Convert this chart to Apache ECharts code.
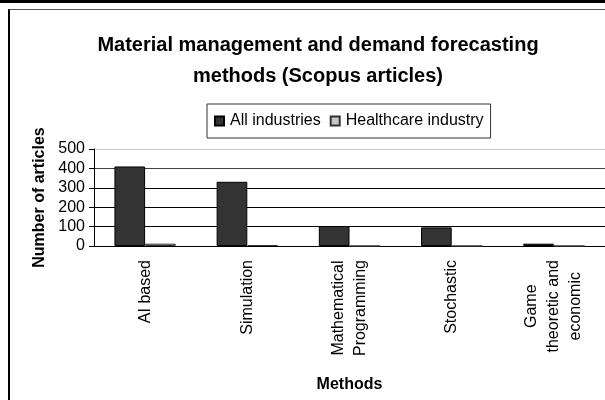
<!DOCTYPE html>
<html>
<head>
    <meta charset="utf-8" />
    <title>Material management and demand forecasting methods</title>
    <script src="https://cdn.jsdelivr.net/npm/echarts@6.0.0/dist/echarts.min.js"></script>
    <style>
        * { margin: 0; padding: 0; box-sizing: border-box; }
        body { width: 605px; height: 400px; background: #fff; position: relative; overflow: hidden; }
        .topbar { position: absolute; left: 0; top: 0; width: 605px; height: 3px; background: #000; }
        .frame { position: absolute; left: 8px; top: 9px; right: -5px; bottom: -5px;
                 border-left: 2px solid #000; border-top: 1px solid #555; }
        #chart { position: absolute; left: 0; top: 0; width: 605px; height: 400px; }
    </style>
</head>
<body>
    <div class="topbar"></div>
    <div class="frame"></div>
    <div id="chart"></div>

    <script>
        // data
        const methods = ['AI based', 'Simulation', 'Mathematical\nProgramming', 'Stochastic', 'Game\ntheoretic and\neconomic'];
        const allIndustries = [410, 331, 103, 96, 12];
        const healthcare = [12, 5, 0, 0, 0];

        const font = '"Liberation Sans", Arial, sans-serif';

        const myChart = echarts.init(document.getElementById('chart'), null, { renderer: 'canvas' });

        const option = {
            animation: false,
            title: {
                text: 'Material management and demand forecasting\nmethods (Scopus articles)',
                left: 313,
                textAlign: 'center',
                top: 25,
                textStyle: {
                    fontFamily: font,
                    fontSize: 20,
                    fontWeight: 'bold',
                    color: '#000',
                    lineHeight: 31
                }
            },
            legend: {
                data: ['All industries', 'Healthcare industry'],
                left: 207,
                top: 104,
                padding: [9, 7, 9, 7],
                borderColor: '#333',
                borderWidth: 1,
                itemWidth: 9,
                itemHeight: 9,
                itemGap: 9,
                icon: 'rect',
                textStyle: { fontFamily: font, fontSize: 16, color: '#000', padding: [0, 0, 0, 1] }
            },
            grid: {
                left: 94,
                right: 0,
                top: 149,
                bottom: 154,
                containLabel: false
            },
            xAxis: {
                type: 'category',
                data: methods,
                name: 'Methods',
                nameLocation: 'middle',
                nameGap: 131,
                nameTextStyle: { fontFamily: font, fontSize: 16, fontWeight: 'bold', color: '#000', verticalAlign: 'top' },
                axisLine: { lineStyle: { color: '#000', width: 1 } },
                axisTick: { length: 5, lineStyle: { color: '#000' } },
                axisLabel: {
                    rotate: 90,
                    margin: 14,
                    interval: 0,
                    fontFamily: font,
                    fontSize: 16,
                    lineHeight: 22,
                    color: '#000',
                    // centre each line of a wrapped label inside its block
                    formatter: function (value) {
                        return value.split('\n').map(function (line) { return '{c|' + line + '}'; }).join('\n');
                    },
                    rich: {
                        c: { align: 'center', fontFamily: font, fontSize: 16, lineHeight: 22, color: '#000' }
                    }
                }
            },
            yAxis: {
                type: 'value',
                min: 0,
                max: 500,
                interval: 100,
                name: 'Number of articles',
                nameLocation: 'middle',
                nameGap: 46,
                nameTextStyle: { fontFamily: font, fontSize: 16, fontWeight: 'bold', color: '#000' },
                axisLine: { show: true, lineStyle: { color: '#000', width: 1 } },
                axisTick: { show: true, length: 5, lineStyle: { color: '#000' } },
                axisLabel: { fontFamily: font, fontSize: 16, color: '#000', margin: 9 },
                splitLine: {
                    lineStyle: { color: ['#000', '#000', '#000', '#000', '#444', '#ccc'], width: 1 }
                }
            },
            series: [
                {
                    name: 'All industries',
                    type: 'bar',
                    data: allIndustries,
                    barGap: '0%',
                    barCategoryGap: '40%',
                    itemStyle: { color: '#333333', borderColor: '#000', borderWidth: 1 }
                },
                {
                    name: 'Healthcare industry',
                    type: 'bar',
                    data: healthcare,
                    itemStyle: { color: '#c8c8c8', borderColor: '#333', borderWidth: 1 }
                }
            ]
        };

        myChart.setOption(option);
    </script>
</body>
</html>
